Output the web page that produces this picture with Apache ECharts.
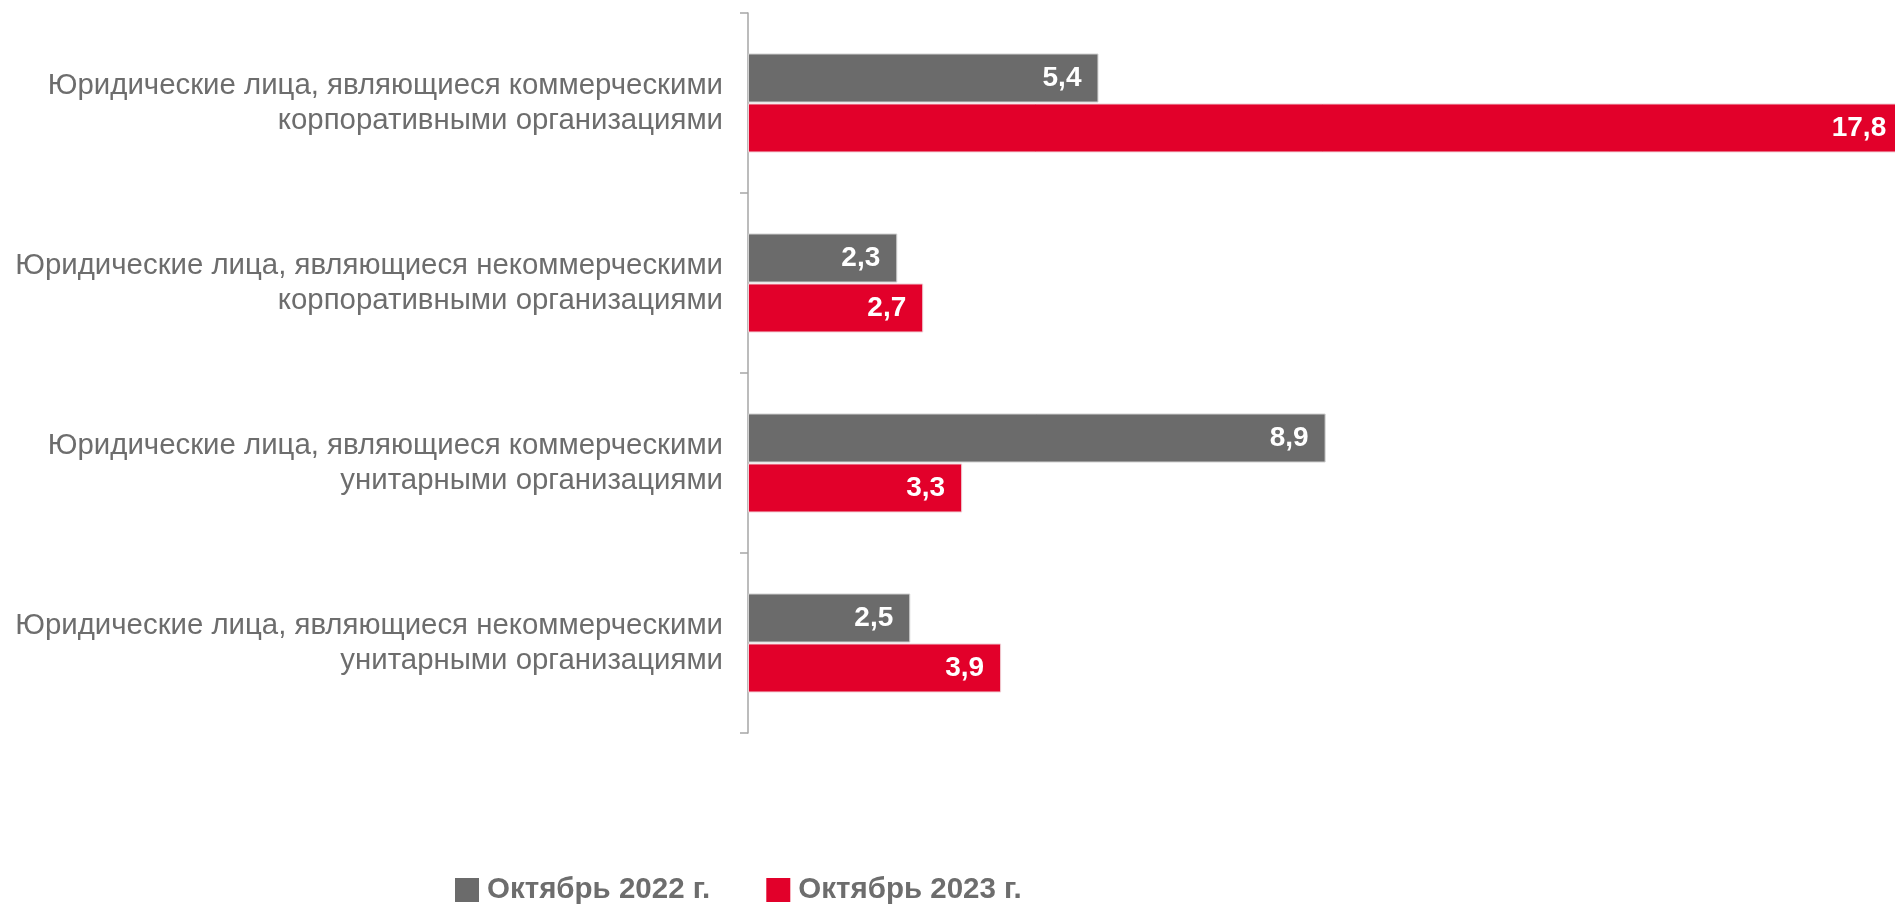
<!DOCTYPE html>
<html>
<head>
<meta charset="utf-8">
<script src="https://cdn.jsdelivr.net/npm/echarts@6/dist/echarts.min.js"></script>
<style>
    html, body { margin: 0; padding: 0; background: #fff; }
    #chartBar { width: 1895px; height: 906px; }
</style>
</head>
<body>
<div id="chartBar"></div>
<script>
    var categories = [
        'Юридические лица, являющиеся коммерческими\nкорпоративными организациями',
        'Юридические лица, являющиеся некоммерческими\nкорпоративными организациями',
        'Юридические лица, являющиеся коммерческими\nунитарными организациями',
        'Юридические лица, являющиеся некоммерческими\nунитарными организациями'
    ];
    var seriesNames = ['Октябрь 2022 г.', 'Октябрь 2023 г.'];
    var oct2022 = [5.4, 2.3, 8.9, 2.5];
    var oct2023 = [17.8, 2.7, 3.3, 3.9];

    var fontFamily = '"Liberation Sans", Arial, sans-serif';
    var textGray = '#6d6d6d';

    function barLabel() {
        return {
            show: true,
            position: 'insideRight',
            distance: 17,
            color: '#fff',
            textBorderWidth: 0,
            fontFamily: fontFamily,
            fontWeight: 'bold',
            fontSize: 28,
            formatter: function (p) {
                return String(p.value).replace('.', ',');
            }
        };
    }

    var chartBar = echarts.init(document.getElementById('chartBar'));
    chartBar.setOption({
        animation: false,
        grid: {
            left: 748,
            top: 13,
            height: 720,
            width: 1298,   // шкала шире окна: столбец 17,8 уходит за край
            outerBoundsMode: 'none'
        },
        legend: {
            data: seriesNames,
            left: 450,
            bottom: -4,
            itemWidth: 24,
            itemHeight: 24,
            itemGap: 56,
            icon: 'rect',
            itemStyle: { borderWidth: 0 },
            textStyle: {
                color: textGray,
                fontFamily: fontFamily,
                fontWeight: 'bold',
                fontSize: 29.5,
                padding: [0, 0, 0, 3]
            }
        },
        xAxis: {
            type: 'value',
            min: 0,
            max: 20,
            show: false
        },
        yAxis: {
            type: 'category',
            inverse: true,
            data: categories,
            axisLine: { lineStyle: { color: '#a6a6a6', width: 1.5 } },
            axisTick: { show: true, length: 8, lineStyle: { color: '#a6a6a6', width: 1.5 } },
            axisLabel: {
                margin: 25,
                color: textGray,
                fontFamily: fontFamily,
                fontSize: 29.4,
                lineHeight: 35,
                padding: [6, 0, 0, 0],
                align: 'right'
            }
        },
        series: [
            {
                name: seriesNames[0],
                type: 'bar',
                data: oct2022,
                barWidth: 49,
                barGap: '2%',
                itemStyle: { color: '#6b6b6b', borderColor: '#d0d0d0', borderWidth: 1 },
                label: barLabel()
            },
            {
                name: seriesNames[1],
                type: 'bar',
                data: oct2023,
                barWidth: 49,
                barGap: '2%',
                itemStyle: { color: '#e2002a', borderColor: '#f0d0d6', borderWidth: 1 },
                label: barLabel()
            }
        ]
    });
</script>
</body>
</html>
